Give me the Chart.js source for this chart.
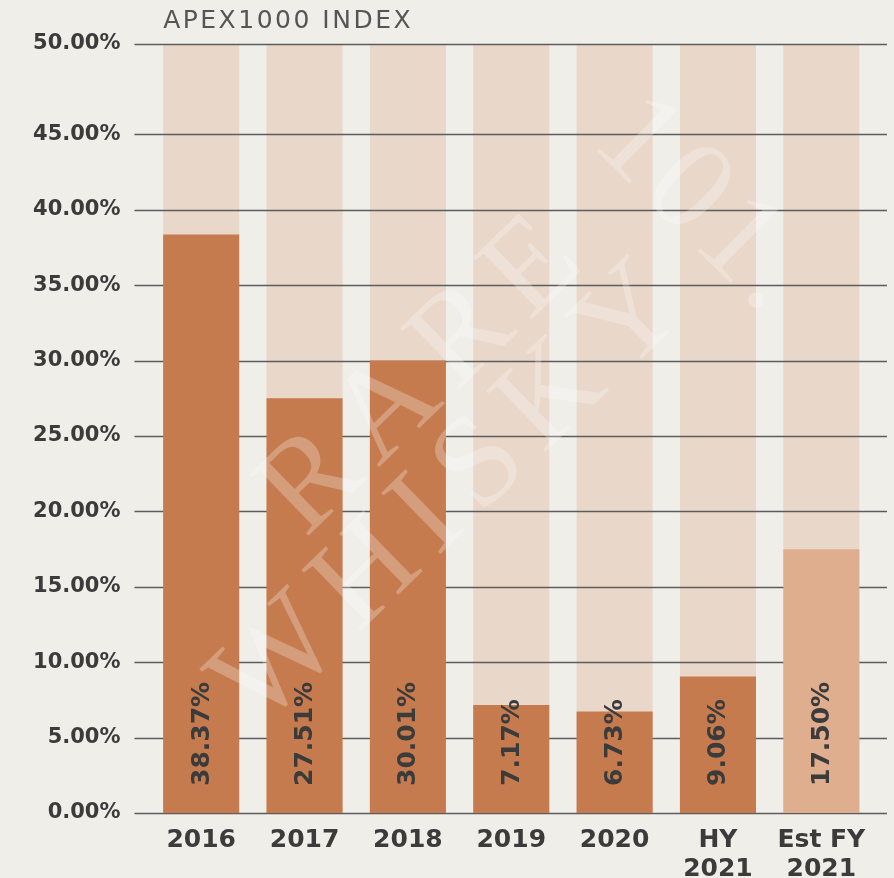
<!DOCTYPE html>
<html>
<head>
<meta charset="utf-8">
<script src="https://cdn.jsdelivr.net/npm/chart.js@4.4.1/dist/chart.umd.min.js"></script>
<style>
  html, body { margin: 0; padding: 0; background: #f0eee9; }
  #wrap { width: 894px; height: 878px; position: relative; }
</style>
</head>
<body>
<div id="wrap"><canvas id="apex-chart"></canvas></div>
<script>
// data
const categories = ['2016', '2017', '2018', '2019', '2020', ['HY', '2021'], ['Est FY', '2021']];
const returns = [38.37, 27.51, 30.01, 7.17, 6.73, 9.06, 17.50];
const barColors = ['#c67b4e', '#c67b4e', '#c67b4e', '#c67b4e', '#c67b4e', '#c67b4e', '#dfae8f'];
const axisTop = 51;
const backdrop = [51, 51, 51, 51, 51, 51, 51];
const yTickValues = [0, 5, 10, 15, 20, 25, 30, 35, 40, 45, 51];
const yTickLabels = ['0.00%', '5.00%', '10.00%', '15.00%', '20.00%', '25.00%', '30.00%', '35.00%', '40.00%', '45.00%', '50.00%'];
const valueLabels = ['38.37%', '27.51%', '30.01%', '7.17%', '6.73%', '9.06%', '17.50%'];
const title = 'APEX1000 INDEX';

const textColor = '#3b3b3b';

// grid lines go between the pale backdrop bars and the real bars
const gridPlugin = {
  id: 'gridBetween',
  beforeDatasetDraw(chart, args) {
    if (args.index !== 0) return;
    const ctx = chart.ctx, y = chart.scales.y, area = chart.chartArea;
    ctx.save();
    ctx.strokeStyle = '#5c5c5c';
    ctx.lineWidth = 1.5;
    y.ticks.forEach(t => {
      const py = Math.round(y.getPixelForValue(t.value)) + 0.5;
      ctx.beginPath();
      ctx.moveTo(area.left - 15, py);
      ctx.lineTo(area.right + 14, py);
      ctx.stroke();
    });
    ctx.restore();
  }
};

function watermark(ctx, text, cx, cy, angle, spacing) {
  ctx.save();
  ctx.fillStyle = 'rgba(255,255,255,0.26)';
  ctx.font = '130px "Liberation Serif", serif';
  ctx.letterSpacing = spacing + 'px';
  ctx.textAlign = 'center';
  ctx.textBaseline = 'middle';
  ctx.translate(cx, cy);
  ctx.rotate(angle);
  ctx.fillText(text, spacing / 2, 0);
  ctx.restore();
}

const extrasPlugin = {
  id: 'extras',
  afterDatasetsDraw(chart) {
    const ctx = chart.ctx, y = chart.scales.y;
    const bars = chart.getDatasetMeta(0).data;

    watermark(ctx, 'RARE', 422, 378, -0.77, 15);
    watermark(ctx, 'WHISKY', 450, 497, -0.77, 16);
    watermark(ctx, '101.', 700, 205, 0.78, 6);

    // value labels
    const base = y.getPixelForValue(0);
    ctx.save();
    ctx.fillStyle = textColor;
    ctx.font = 'bold 25px "DejaVu Sans", sans-serif';
    ctx.textBaseline = 'middle';
    ctx.textAlign = 'left';
    bars.forEach((b, i) => {
      ctx.save();
      ctx.translate(b.x + 1, base - 27);
      ctx.rotate(-Math.PI / 2);
      ctx.fillText(valueLabels[i], 0, 0);
      ctx.restore();
    });
    ctx.restore();

    // title
    ctx.save();
    ctx.fillStyle = '#555555';
    ctx.font = '25px "DejaVu Sans", sans-serif';
    ctx.letterSpacing = '2.5px';
    ctx.textBaseline = 'alphabetic';
    ctx.fillText(title, bars[0].x - bars[0].width / 2, 28);
    ctx.restore();
  }
};

new Chart(document.getElementById('apex-chart').getContext('2d'), {
  type: 'bar',
  data: {
    labels: categories,
    datasets: [{
      label: 'Return',
      data: returns,
      backgroundColor: barColors,
      grouped: false,
      order: 0,
      categoryPercentage: 1,
      barPercentage: 0.736
    }, {
      label: 'Backdrop',
      data: backdrop,
      backgroundColor: '#e9d7c9',
      grouped: false,
      order: 1,
      categoryPercentage: 1,
      barPercentage: 0.736
    }]
  },
  options: {
    responsive: true,
    maintainAspectRatio: false,
    animation: false,
    layout: { padding: { top: 44, right: 21, left: 0, bottom: 0 } },
    plugins: {
      legend: { display: false },
      tooltip: { enabled: false }
    },
    scales: {
      x: {
        grid: { display: false },
        border: { display: false },
        ticks: {
          color: textColor,
          font: { family: 'DejaVu Sans', size: 25, weight: 'bold', lineHeight: 1.16 },
          padding: 5,
          maxRotation: 0,
          autoSkip: false
        },
        afterFit: s => { s.height = 65; }
      },
      y: {
        min: 0,
        max: axisTop,
        grid: { display: false, drawTicks: false },
        border: { display: false },
        afterBuildTicks: s => { s.ticks = yTickValues.map(v => ({ value: v })); },
        ticks: {
          color: textColor,
          font: { family: 'DejaVu Sans', size: 21, weight: 'bold' },
          padding: 29,
          callback: (v, i) => yTickLabels[i]
        },
        afterFit: s => { s.width = 149.5; }
      }
    }
  },
  plugins: [gridPlugin, extrasPlugin]
});
</script>
</body>
</html>
